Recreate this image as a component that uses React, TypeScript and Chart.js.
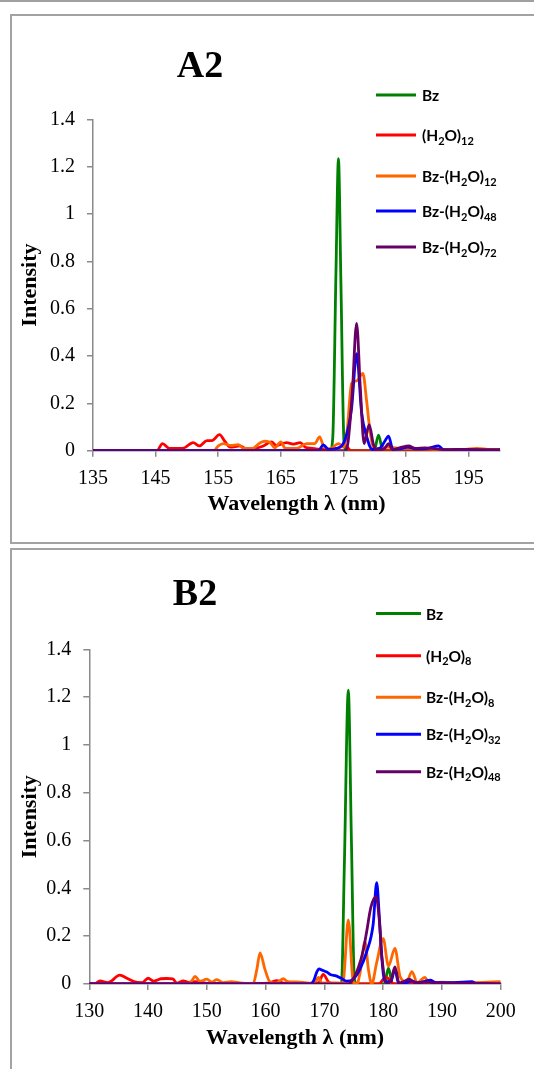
import React, { useEffect, useRef } from "react";
import { Chart, registerables } from "chart.js";

Chart.register(...registerables);

// ---------- Data: panel A2 ----------
const A_TITLE = "A2";
const A_X_TICKS = [135, 145, 155, 165, 175, 185, 195];
const A_LABELS = ["Bz", "(H2O)12", "Bz-(H2O)12", "Bz-(H2O)48", "Bz-(H2O)72"];

const A_BZ_X = [135, 172.9, 173.3, 173.8, 174.2, 174.6, 175.1, 175.6, 179.9, 180.6, 181.3, 200];
const A_BZ_Y = [0, 0, 0.06, 0.75, 1.235, 0.7, 0.03, 0, 0, 0.066, 0, 0];

const A_W12_X = [135, 145.2, 146.1, 147.2, 149.3, 151.0, 152.0, 153.2, 154.0, 155.2, 156.1, 156.9, 158.5, 159.5, 161.0, 162.2, 163.5, 164.3, 165.9, 167.0, 168.1, 168.9, 170.0, 172.0, 174.0, 175.3, 176.2, 200];
const A_W12_Y = [0, 0, 0.03, 0.01, 0.01, 0.034, 0.02, 0.043, 0.043, 0.068, 0.038, 0.015, 0.02, 0.008, 0.01, 0.02, 0.037, 0.022, 0.034, 0.028, 0.034, 0.015, 0.01, 0.005, 0.01, 0.022, 0, 0];

const A_BW12_X = [135, 154.3, 155.0, 155.8, 157.0, 158.2, 159.0, 160.5, 161.7, 162.5, 163.3, 164.0, 165.0, 165.7, 167.6, 169.1, 170.4, 171.2, 171.8, 172.8, 174.2, 175.0, 175.6, 176.3, 177.1, 178.1, 178.7, 179.25, 179.9, 180.5, 182.0, 184.0, 187.0, 190.0, 194.0, 196.3, 198.5, 200];
const A_BW12_Y = [0, 0, 0.02, 0.03, 0.022, 0.026, 0.01, 0.01, 0.034, 0.04, 0.034, 0.012, 0.037, 0.01, 0.01, 0.03, 0.03, 0.058, 0.02, 0.008, 0.03, 0.015, 0.09, 0.285, 0.295, 0.327, 0.21, 0.08, 0.01, 0.01, 0.015, 0.01, 0.01, 0.005, 0.005, 0.01, 0.005, 0.005];

const A_BW48_X = [135, 171.0, 171.8, 172.6, 174.0, 175.3, 176.3, 177.1, 177.9, 178.7, 179.6, 180.8, 181.6, 182.2, 182.9, 184.0, 185.3, 186.5, 188.5, 190.2, 191.0, 200];
const A_BW48_Y = [0, 0, 0.025, 0.005, 0.01, 0.05, 0.18, 0.41, 0.16, 0.06, 0.005, 0.01, 0.04, 0.062, 0.005, 0.008, 0.015, 0.008, 0.01, 0.02, 0.003, 0];

const A_BW72_X = [135, 175.2, 175.7, 176.4, 177.1, 177.7, 178.3, 179.1, 179.8, 180.4, 181.6, 182.2, 182.8, 184.3, 185.4, 186.5, 188.0, 189.2, 191.0, 195.0, 200];
const A_BW72_Y = [0, 0, 0.03, 0.24, 0.538, 0.26, 0.03, 0.11, 0.025, 0.003, 0.01, 0.03, 0.005, 0.015, 0.02, 0.01, 0.012, 0.01, 0.004, 0.006, 0.004];

// ---------- Data: panel B2 ----------
const B_TITLE = "B2";
const B_X_TICKS = [130, 140, 150, 160, 170, 180, 190, 200];
const B_LABELS = ["Bz", "(H2O)8", "Bz-(H2O)8", "Bz-(H2O)32", "Bz-(H2O)48"];

const B_BZ_X = [130, 172.9, 173.4, 174.07, 174.6, 175.1, 175.6, 180.2, 180.9, 181.6, 200];
const B_BZ_Y = [0, 0, 0.5, 1.23, 0.6, 0.02, 0, 0, 0.066, 0, 0];

const B_W8_X = [130, 131.0, 131.8, 133.2, 135.2, 136.4, 137.6, 139.0, 140.0, 140.9, 142.2, 143.1, 144.2, 144.9, 146.0, 146.9, 148.0, 150.0, 155.0, 160.5, 161.9, 163.0, 167.5, 169.0, 169.8, 170.8, 172.0, 179.3, 180.0, 180.6, 181.3, 182.0, 200];
const B_W8_Y = [0, 0.002, 0.013, 0.006, 0.037, 0.024, 0.01, 0.006, 0.024, 0.012, 0.022, 0.023, 0.021, 0.004, 0.013, 0.007, 0.01, 0.003, 0.002, 0.004, 0.014, 0.004, 0.003, 0.005, 0.04, 0.006, 0, 0, 0.02, 0.028, 0.01, 0, 0];

const B_BW8_X = [130, 146.8, 147.4, 148.0, 148.8, 150.0, 150.8, 151.7, 152.8, 154.1, 156.0, 157.9, 158.5, 159.05, 159.9, 160.7, 161.8, 163.0, 163.8, 165.3, 167.5, 168.3, 169.0, 169.6, 171.0, 172.8, 173.2, 174.07, 174.9, 175.5, 176.1, 176.9, 177.5, 178.05, 178.9, 180.0, 180.9, 182.0, 182.9, 184.0, 184.9, 185.8, 187.1, 187.8, 190.0, 193.0, 196.0, 200];
const B_BW8_Y = [0, 0.002, 0.012, 0.032, 0.012, 0.02, 0.008, 0.018, 0.006, 0.01, 0.004, 0.003, 0.06, 0.13, 0.06, 0.01, 0.004, 0.022, 0.01, 0.009, 0.004, 0.004, 0.028, 0.004, 0.005, 0.004, 0.01, 0.268, 0.01, 0.0, 0.05, 0.177, 0.06, 0.0, 0.09, 0.19, 0.075, 0.149, 0.03, 0.01, 0.052, 0.005, 0.028, 0.004, 0.008, 0.004, 0.006, 0.01];

const B_BW32_X = [130, 167.6, 168.2, 168.7, 169.1, 169.6, 170.4, 171.0, 172.0, 172.8, 173.8, 174.9, 176.0, 177.2, 178.3, 178.9, 179.35, 179.8, 180.3, 181.3, 182.0, 182.6, 183.5, 184.9, 185.8, 188.0, 189.0, 192.0, 195.1, 195.7, 200];
const B_BW32_Y = [0, 0, 0.015, 0.05, 0.063, 0.058, 0.05, 0.04, 0.034, 0.025, 0.012, 0.02, 0.06, 0.135, 0.25, 0.424, 0.28, 0.1, 0.01, 0.01, 0.062, 0.004, 0.004, 0.012, 0.004, 0.016, 0.006, 0.006, 0.01, 0.003, 0];

const B_BW48_X = [130, 173.8, 174.6, 175.8, 176.6, 177.2, 177.9, 178.8, 179.3, 179.8, 180.6, 181.4, 182.0, 182.7, 183.7, 184.4, 185.5, 187.0, 190.0, 195.0, 200];
const B_BW48_Y = [0, 0, 0.01, 0.07, 0.14, 0.22, 0.32, 0.365, 0.28, 0.11, 0, 0.02, 0.072, 0.005, 0.012, 0.02, 0.006, 0.008, 0.004, 0.004, 0];

const Y_TICKS = [0, 0.2, 0.4, 0.6, 0.8, 1, 1.2, 1.4];
const X_TITLE = "Wavelength λ (nm)";
const Y_TITLE = "Intensity";

const COLORS = ["#008000", "#ff0000", "#ff6600", "#0000ff", "#660066"];

const zip = (xs: number[], ys: number[]) => xs.map((x, i) => ({ x, y: ys[i] }));

const overlayPlugin = {
  id: "overlay",
  afterDraw(chart: any, _args: any, opts: any) {
    const ctx = chart.ctx;
    ctx.save();
    ctx.fillStyle = "#000";
    ctx.font = 'bold 38px "Liberation Serif"';
    ctx.textAlign = "center";
    ctx.textBaseline = "alphabetic";
    ctx.fillText(opts.title, opts.titleX, opts.titleY);
    chart.data.datasets.forEach((ds: any, i: number) => {
      const y = opts.legendY[i];
      ctx.strokeStyle = ds.borderColor;
      ctx.lineWidth = 3;
      ctx.beginPath();
      ctx.moveTo(opts.lineX0, y);
      ctx.lineTo(opts.lineX1, y);
      ctx.stroke();
      // rich text with subscripts
      const parts = String(ds.label).split(/(\d+)/).filter((p) => p.length);
      let x = opts.textX;
      ctx.textAlign = "left";
      ctx.textBaseline = "middle";
      ctx.fillStyle = "#000";
      parts.forEach((p: string) => {
        const sub = /^\d+$/.test(p);
        ctx.font = sub ? 'bold 11px "Lato"' : 'bold 15.5px "Lato"';
        ctx.fillText(p, x, sub ? y + 6 : y + 1);
        x += ctx.measureText(p).width;
      });
    });
    ctx.restore();
  },
};

type PanelCfg = {
  width: number;
  height: number;
  xMin: number;
  xMax: number;
  xTicks: number[];
  labels: string[];
  series: { x: number[]; y: number[] }[];
  title: string;
  yAxisWidth: number;
  padding: { left: number; right: number; top: number; bottom: number };
  overlay: any;
  xTitlePad: number;
};

function Panel({ cfg }: { cfg: PanelCfg }) {
  const ref = useRef<HTMLCanvasElement | null>(null);
  useEffect(() => {
    if (!ref.current) return;
    const axisColor = "#8a8a8a";
    const chart = new Chart(ref.current, {
      type: "line",
      data: {
        datasets: cfg.series.map((s, i) => ({
          label: cfg.labels[i],
          data: zip(s.x, s.y),
          borderColor: COLORS[i],
          backgroundColor: COLORS[i],
          borderWidth: 2.8,
          pointRadius: 0,
          cubicInterpolationMode: "monotone",
          fill: false,
          order: cfg.series.length - 1 - i,
        })),
      },
      options: {
        responsive: false,
        animation: false,
        layout: { padding: cfg.padding },
        plugins: {
          legend: { display: false },
          tooltip: { enabled: false },
          overlay: { ...cfg.overlay, title: cfg.title },
        } as any,
        scales: {
          x: {
            type: "linear",
            min: cfg.xMin,
            max: cfg.xMax,
            afterBuildTicks: (s: any) => {
              s.ticks = cfg.xTicks.map((v) => ({ value: v }));
            },
            afterFit: (s: any) => {
              s.height = 80;
            },
            grid: { display: true, drawOnChartArea: false, drawTicks: true, tickLength: 6, color: axisColor, lineWidth: 1.5 },
            border: { display: true, color: axisColor, width: 1.5 },
            ticks: {
              color: "#000",
              padding: 10,
              maxRotation: 0,
              autoSkip: false,
              font: { family: '"Liberation Serif"', size: 20 },
              callback: (v: any) => String(v),
            },
            title: {
              display: true,
              text: X_TITLE,
              color: "#000",
              font: { family: '"Liberation Serif"', size: 22, weight: "bold" },
              padding: { top: 0, bottom: cfg.xTitlePad },
            },
          },
          y: {
            type: "linear",
            min: 0,
            max: 1.4,
            afterBuildTicks: (s: any) => {
              s.ticks = Y_TICKS.map((v) => ({ value: v }));
            },
            afterFit: (s: any) => {
              s.width = cfg.yAxisWidth;
            },
            grid: { display: true, drawOnChartArea: false, drawTicks: true, tickLength: 6, color: axisColor, lineWidth: 1.5 },
            border: { display: true, color: axisColor, width: 1.5 },
            ticks: {
              color: "#000",
              padding: 12,
              font: { family: '"Liberation Serif"', size: 20 },
              callback: (v: any) => String(v),
            },
            title: {
              display: true,
              text: Y_TITLE,
              color: "#000",
              font: { family: '"Liberation Serif"', size: 22, weight: "bold" },
              padding: { top: 5, bottom: 0 },
            },
          },
        },
      },
      plugins: [overlayPlugin],
    } as any);
    return () => chart.destroy();
  }, []);
  return (
    <canvas
      ref={ref}
      width={cfg.width}
      height={cfg.height}
      style={{ position: "absolute", left: 0, top: 0, width: cfg.width, height: cfg.height }}
    />
  );
}

const panelA: PanelCfg = {
  width: 522,
  height: 526,
  xMin: 135,
  xMax: 200,
  xTicks: A_X_TICKS,
  labels: A_LABELS,
  title: A_TITLE,
  series: [
    { x: A_BZ_X, y: A_BZ_Y },
    { x: A_W12_X, y: A_W12_Y },
    { x: A_BW12_X, y: A_BW12_Y },
    { x: A_BW48_X, y: A_BW48_Y },
    { x: A_BW72_X, y: A_BW72_Y },
  ],
  yAxisWidth: 81,
  padding: { left: 0, right: 34, top: 103.5, bottom: 11.3 },
  xTitlePad: 13.5,
  overlay: {
    titleX: 188,
    titleY: 61,
    lineX0: 364,
    lineX1: 404,
    textX: 410,
    legendY: [79, 119, 160, 195, 231],
  },
};

const panelB: PanelCfg = {
  width: 522,
  height: 519,
  xMin: 130,
  xMax: 200,
  xTicks: B_X_TICKS,
  labels: B_LABELS,
  title: B_TITLE,
  series: [
    { x: B_BZ_X, y: B_BZ_Y },
    { x: B_W8_X, y: B_W8_Y },
    { x: B_BW8_X, y: B_BW8_Y },
    { x: B_BW32_X, y: B_BW32_Y },
    { x: B_BW48_X, y: B_BW48_Y },
  ],
  yAxisWidth: 77.3,
  padding: { left: 0, right: 33.3, top: 99.4, bottom: 5 },
  xTitlePad: 12.8,
  overlay: {
    titleX: 183,
    titleY: 55,
    lineX0: 364,
    lineX1: 409,
    textX: 414,
    legendY: [63.5, 105.7, 147.3, 184.3, 221.7],
  },
};

export default function App() {
  const border = "2px solid #a3a3a3";
  return (
    <div style={{ position: "absolute", left: 0, top: 0, width: 534, height: 1069, overflow: "hidden", background: "#fff" }}>
      <div style={{ position: "absolute", left: 0, top: 0, width: 534, height: 2, background: "#a0a0a0" }} />
      <div style={{ position: "absolute", left: 10, top: 14, width: 540, height: 530, border, boxSizing: "border-box" }}>
        <Panel cfg={panelA} />
      </div>
      <div style={{ position: "absolute", left: 10, top: 548, width: 540, height: 560, border, boxSizing: "border-box" }}>
        <Panel cfg={panelB} />
      </div>
    </div>
  );
}
